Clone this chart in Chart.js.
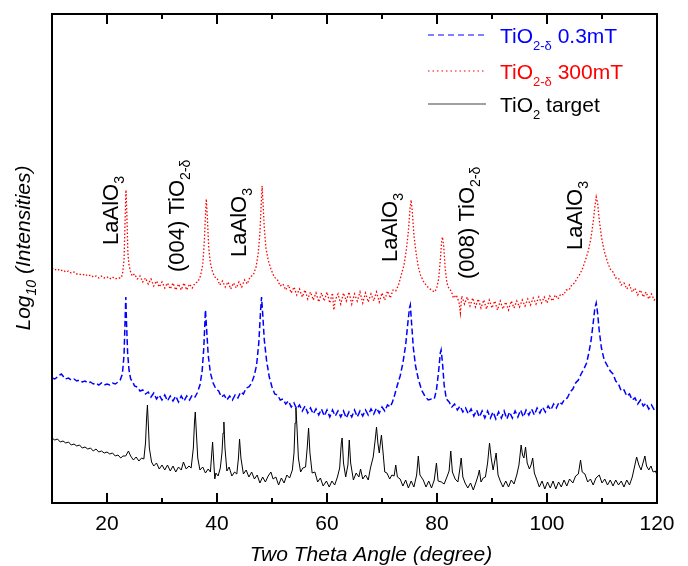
<!DOCTYPE html>
<html>
<head>
<meta charset="utf-8">
<title>XRD TiO2</title>
<script src="https://cdn.jsdelivr.net/npm/chart.js@4.4.0/dist/chart.umd.min.js"></script>
<style>
html,body{margin:0;padding:0;background:#fff;}
#wrap{width:688px;height:566px;}
</style>
</head>
<body>
<div id="wrap"><canvas id="xrd" width="688" height="566"></canvas></div>
<script>
/* XRD patterns, log intensity in arbitrary units (traces offset) */

// x axis
const xMin = 10, xMax = 120;
const xMajorTicks = [20, 40, 60, 80, 100, 120];
const xMinorTicks = [30, 50, 70, 90, 110];
const yMin = 0, yMax = 489;

// TiO2-δ 0.3mT (blue, dashed)  [angle, value]
const film03 = [[10,125],[10.5,124],[11,126],[11.4,128],[11.7,129],[12,127],[12.4,124],[13,125],[13.5,123],[14,124],[14.5,122],[15,123],[15.5,121],[16,122],[16.5,120],[17,121],[17.5,119],[18,120],[18.5,118],[19,120],[19.5,118],[20,119],[20.5,118],[21,120],[21.5,119],[22,121],[22.4,123],[22.8,129],[23.1,148],[23.3,185],[23.42,206],[23.55,180],[23.75,150],[24,133],[24.3,124],[24.7,121],[25,117],[25.5,116],[26,112],[26.5,113],[27,109],[27.5,111],[28,106],[28.5,110],[29,104],[29.5,108],[30,103],[30.5,108],[31,102],[31.5,107],[32,102],[32.5,107],[33,101],[33.5,107],[34,102],[34.5,107],[35,103],[35.5,108],[36,106],[36.4,110],[36.9,118],[37.3,132],[37.6,155],[37.9,193],[38.1,175],[38.4,148],[38.8,130],[39.3,120],[39.8,114],[40.3,112],[40.8,106],[41.3,108],[41.8,103],[42.3,107],[42.8,103],[43.3,108],[43.8,105],[44.3,111],[44.8,109],[45.3,115],[45.8,116],[46.3,120],[46.8,128],[47.2,138],[47.6,160],[47.9,190],[48.1,206],[48.3,190],[48.6,163],[49,143],[49.5,126],[50,116],[50.5,109],[51,108],[51.5,103],[52,104],[52.5,99],[53,102],[53.5,96],[54,100],[54.5,94],[55,98],[55.5,92],[56,97],[56.5,90],[57,95],[57.5,89],[58,94],[58.5,88],[59,94],[59.5,87],[60,93],[60.5,86],[61,93],[61.5,87],[62,92],[62.5,86],[63,92],[63.5,85],[64,91],[64.5,86],[65,93],[65.5,86],[66,92],[66.5,87],[67,93],[67.5,88],[68,94],[68.5,89],[69,95],[69.5,90],[70,96],[70.5,92],[71,98],[71.5,96],[71.9,101],[72.3,108],[72.8,118],[73.3,127],[73.8,140],[74.3,158],[74.7,180],[75,195],[75.15,198],[75.35,182],[75.7,155],[76.1,137],[76.6,124],[77.2,113],[77.8,107],[78.4,103],[79,104],[79.5,104],[79.9,113],[80.3,132],[80.6,150],[80.75,153],[81,140],[81.3,118],[81.7,104],[82.2,101],[82.7,96],[83.2,99],[83.7,93],[84.2,97],[84.7,91],[85.2,95],[85.7,89],[86.2,94],[86.7,87],[87.2,93],[87.7,86],[88.2,92],[88.7,85],[89.2,92],[89.7,85],[90.2,91],[90.7,84],[91.2,91],[91.7,85],[92.2,92],[92.7,84],[93.2,91],[93.7,85],[94.2,92],[94.7,86],[95.2,93],[95.7,86],[96.2,93],[96.7,88],[97.2,94],[97.7,88],[98.2,95],[98.7,90],[99.2,96],[99.7,91],[100.2,97],[100.7,93],[101.2,99],[101.7,95],[102.2,101],[102.7,99],[103.2,104],[103.7,105],[104.2,111],[104.7,114],[105.2,120],[105.7,123],[106.2,129],[106.7,134],[107.2,140],[107.6,150],[108,162],[108.4,180],[108.7,195],[108.95,200],[109.2,190],[109.5,172],[109.9,155],[110.4,143],[111,137],[111.5,132],[112,129],[112.5,122],[113,119],[113.5,112],[114,113],[114.5,107],[115,109],[115.5,103],[116,105],[116.5,99],[117,103],[117.5,97],[118,100],[118.5,94],[119,98],[119.5,93],[120,96]];

// TiO2-δ 300mT (red, dotted)
const film300 = [[10,235],[10.5,233],[11,234],[11.5,232],[12,233],[12.5,231],[13,232],[13.5,230],[14,231],[14.5,229],[15,229],[15.5,228],[16,229],[16.5,227],[17,228],[17.5,226],[18,227],[18.5,225],[19,227],[19.5,225],[20,226],[20.5,224],[21,226],[21.5,224],[22,225],[22.5,225],[22.8,228],[23.1,243],[23.3,285],[23.45,313],[23.6,290],[23.8,250],[24,238],[24.3,231],[24.6,227],[25,229],[25.5,224],[26,227],[26.5,221],[27,225],[27.5,219],[28,224],[28.5,217],[29,222],[29.5,216],[30,221],[30.5,215],[31,220],[31.5,214],[32,220],[32.5,213],[33,219],[33.5,213],[34,220],[34.5,213],[35,219],[35.5,215],[36,220],[36.5,221],[37,227],[37.4,238],[37.7,262],[37.9,288],[38.05,304],[38.25,285],[38.5,255],[38.8,240],[39.2,231],[39.6,226],[40,225],[40.5,218],[41,222],[41.5,216],[42,221],[42.5,214],[43,220],[43.5,215],[44,221],[44.5,216],[45,223],[45.5,219],[46,226],[46.6,228],[47.1,236],[47.5,250],[47.8,270],[48.05,300],[48.2,317],[48.35,302],[48.6,275],[48.9,255],[49.3,243],[49.8,234],[50.4,226],[51,223],[51.5,217],[52,219],[52.5,213],[53,218],[53.5,210],[54,216],[54.5,208],[55,214],[55.5,206],[56,213],[56.5,204],[57,211],[57.5,203],[58,210],[58.5,201],[59,210],[59.5,202],[60,211],[60.5,200],[61,210],[61.25,193],[61.5,203],[62,209],[62.5,199],[63,210],[63.5,202],[64,211],[64.5,199],[65,209],[65.5,202],[66,211],[66.5,200],[67,210],[67.5,201],[68,209],[68.5,202],[69,211],[69.5,201],[70,210],[70.5,203],[71,212],[71.5,205],[72,213],[72.5,212],[73,218],[73.5,228],[74,238],[74.4,252],[74.8,272],[75.1,295],[75.3,303],[75.5,292],[75.8,268],[76.2,250],[76.6,236],[77,228],[77.5,222],[78,218],[78.5,215],[79,213],[79.5,211],[79.9,214],[80.3,224],[80.6,243],[80.85,262],[81,266],[81.2,258],[81.5,234],[81.8,220],[82.2,214],[82.6,212],[83,205],[83.5,208],[84,201],[84.25,190],[84.5,207],[85,199],[85.5,206],[86,197],[86.5,205],[87,196],[87.5,204],[88,195],[88.5,203],[89,194],[89.5,203],[90,195],[90.5,202],[91,193],[91.5,202],[92,194],[92.5,201],[93,193],[93.5,202],[94,195],[94.5,202],[95,196],[95.5,203],[96,197],[96.5,204],[97,198],[97.5,205],[98,199],[98.5,206],[99,200],[99.5,206],[100,200],[100.5,207],[101,202],[101.5,208],[102,204],[102.5,209],[103,208],[103.5,213],[104,213],[104.5,218],[105,220],[105.5,225],[106,229],[106.5,235],[107,243],[107.5,252],[108,265],[108.4,281],[108.7,296],[108.95,306],[109.2,300],[109.5,283],[109.9,266],[110.4,252],[111,241],[111.5,234],[112,231],[112.5,225],[113,225],[113.5,218],[114,220],[114.5,214],[115,218],[115.5,211],[116,215],[116.5,208],[117,213],[117.5,206],[118,211],[118.5,204],[119,209],[119.5,203],[120,206]];

// TiO2 target (black, solid)
const target = [[10,65],[10.5,63],[11,64],[11.5,61],[12,62],[12.5,60],[13,61],[13.5,58],[14,59],[14.5,57],[15,58],[15.5,55],[16,56],[16.5,54],[17,55],[17.5,52],[18,54],[18.5,51],[19,52],[19.5,50],[20,51],[20.5,49],[21,50],[21.5,47],[22,48],[22.5,45],[22.9,47],[23.4,47],[23.9,52],[24.3,47],[24.8,43],[25.3,46],[25.8,42],[26.3,45],[26.7,44],[27,60],[27.2,85],[27.35,98],[27.5,80],[27.7,55],[28.1,41],[28.5,37],[29,40],[29.5,34],[30,38],[30.5,33],[31,38],[31.5,32],[32,37],[32.5,31],[33,36],[33.5,33],[33.9,41],[34.4,34],[34.9,37],[35.3,35],[35.7,55],[35.9,80],[36.05,91],[36.25,70],[36.5,45],[36.9,33],[37.4,36],[37.9,30],[38.4,34],[38.8,31],[39.05,50],[39.2,61],[39.4,42],[39.6,24],[39.8,30],[40.2,27],[40.6,35],[40.9,50],[41.1,70],[41.25,81],[41.45,55],[41.8,32],[42.2,36],[42.7,27],[43.2,31],[43.6,29],[43.9,45],[44.1,64],[44.35,45],[44.8,29],[45.3,33],[45.8,26],[46.3,31],[46.8,24],[47.3,28],[47.8,20],[48.3,26],[48.8,21],[49.3,27],[49.8,31],[50.2,24],[50.7,26],[51.2,18],[51.7,25],[52.2,20],[52.7,28],[53.2,25],[53.7,33],[54,50],[54.2,80],[54.35,95],[54.55,75],[54.8,45],[55.2,31],[55.6,35],[56.1,36],[56.4,55],[56.65,75],[56.9,50],[57.3,30],[57.8,31],[58.3,21],[58.8,25],[59.3,17],[59.9,22],[60.4,16],[60.9,22],[61.4,18],[61.9,26],[62.3,35],[62.6,60],[62.75,65],[63,40],[63.4,26],[63.8,38],[64.05,63],[64.3,40],[64.8,23],[65.3,30],[65.8,26],[66.1,34],[66.5,24],[67,28],[67.5,23],[67.9,35],[68.4,46],[68.8,65],[69,76],[69.25,60],[69.5,50],[69.75,62],[69.9,68],[70.2,50],[70.5,31],[70.9,30],[71.4,24],[71.8,28],[72.2,27],[72.5,38],[72.8,26],[73.3,24],[73.8,17],[74.3,23],[74.8,15],[75.3,22],[75.8,16],[76.3,28],[76.6,47],[76.9,28],[77.5,23],[78,16],[78.5,22],[79,15],[79.5,23],[79.9,40],[80.2,22],[80.8,21],[81.3,19],[81.8,26],[82.2,32],[82.5,52],[82.8,31],[83.3,24],[83.8,21],[84.1,32],[84.4,45],[84.7,26],[85.1,20],[85.6,15],[86.1,20],[86.6,13],[87.1,21],[87.5,28],[87.7,33],[88,21],[88.4,25],[88.8,26],[89.2,40],[89.55,60],[89.85,45],[90.2,33],[90.5,42],[90.75,50],[91.1,28],[91.5,22],[92,16],[92.5,22],[93,16],[93.5,23],[94,19],[94.5,28],[94.9,38],[95.3,58],[95.55,48],[95.8,45],[96.1,56],[96.4,40],[96.8,34],[97.1,38],[97.4,45],[97.7,30],[98.1,24],[98.6,16],[99.1,22],[99.6,14],[100.1,21],[100.6,15],[101.1,22],[101.6,14],[102.1,21],[102.6,16],[103.1,23],[103.6,17],[104.1,24],[104.7,20],[105.2,27],[105.7,29],[106.1,43],[106.4,31],[106.9,29],[107.4,21],[107.9,24],[108.4,18],[108.9,25],[109.5,28],[110,20],[110.5,24],[111,18],[111.5,23],[112,17],[112.5,23],[113,18],[113.5,22],[114,16],[114.5,23],[115,18],[115.5,26],[115.9,36],[116.3,46],[116.7,38],[117.1,33],[117.45,40],[117.8,47],[118.1,37],[118.5,33],[118.9,37],[119.3,31],[119.7,32],[120,28]];

// peak labels (rotated), position in data units
const peakMain  = ['LaAlO', '(004) TiO', 'LaAlO', 'LaAlO', '(008) TiO', 'LaAlO'];
const peakSub   = ['3', '2-δ', '3', '3', '2-δ', '3'];
const peakAngle = [20.5, 32.5, 43.8, 71.3, 85.3, 104.9];
const peakLevel = [258, 231, 246, 241, 224, 253];

// legend
const legendMain = ['TiO', 'TiO', 'TiO'];
const legendSub  = ['2-δ', '2-δ', '2'];
const legendTail = [' 0.3mT', ' 300mT', ' target'];

const FONT = '"Liberation Sans", Arial, Helvetica, sans-serif';
const BLUE = '#0000ff', RED = '#ff0000', BLACK = '#000000';

const toXY = arr => arr.map(p => ({ x: p[0], y: p[1] }));

/* ---------- rich text helpers (subscripts) ---------- */
function richWidth(ctx, parts, size, subSize, style){
  let w = 0;
  parts.forEach(([t, sub]) => { ctx.font = `${style} ${sub ? subSize : size}px ${FONT}`; w += ctx.measureText(t).width; });
  return w;
}
function richText(ctx, parts, x, y, size, subSize, style, drop){
  parts.forEach(([t, sub]) => {
    ctx.font = `${style} ${sub ? subSize : size}px ${FONT}`;
    ctx.fillText(t, x, sub ? y + drop : y);
    x += ctx.measureText(t).width;
  });
}

/* ---------- frame, ticks, titles, labels, legend ---------- */
const decor = {
  id: 'decor',
  afterDatasetsDraw(chart){
    const ctx = chart.ctx, a = chart.chartArea;
    const xs = chart.scales.x, ys = chart.scales.y;
    ctx.save();
    ctx.strokeStyle = '#000';
    ctx.fillStyle = '#000';
    ctx.lineWidth = 2;
    ctx.setLineDash([]);
    ctx.strokeRect(a.left, a.top, a.right - a.left, a.bottom - a.top);

    // inward ticks top & bottom
    const tick = (v, len) => {
      const px = Math.round(xs.getPixelForValue(v));
      ctx.beginPath();
      ctx.moveTo(px, a.bottom); ctx.lineTo(px, a.bottom - len);
      ctx.moveTo(px, a.top); ctx.lineTo(px, a.top + len);
      ctx.stroke();
    };
    xMajorTicks.forEach(v => tick(v, 10));
    xMinorTicks.forEach(v => tick(v, 5));

    // tick labels
    ctx.font = `21px ${FONT}`;
    ctx.textAlign = 'center';
    ctx.textBaseline = 'alphabetic';
    xMajorTicks.forEach(v => ctx.fillText(String(v), xs.getPixelForValue(v), 530));

    // x title
    ctx.font = `italic 21px ${FONT}`;
    ctx.fillText('Two Theta Angle (degree)', 371, 561);

    // y title, rotated
    ctx.textAlign = 'left';
    const yParts = [['Log', 0], ['10', 1], [' (Intensities)', 0]];
    const yw = richWidth(ctx, yParts, 21, 14, 'italic');
    ctx.save();
    ctx.translate(30, 248 + yw / 2);
    ctx.rotate(-Math.PI / 2);
    richText(ctx, yParts, 0, 0, 21, 14, 'italic', 6);
    ctx.restore();

    // peak labels
    peakMain.forEach((m, i) => {
      const px = xs.getPixelForValue(peakAngle[i]);
      const py = ys.getPixelForValue(peakLevel[i]);
      ctx.save();
      ctx.translate(px + 8, py);
      ctx.rotate(-Math.PI / 2);
      richText(ctx, [[m, 0], [peakSub[i], 1]], 0, 0, 22, 14, 'normal', 6);
      ctx.restore();
    });

    // legend
    const rows = [35, 71, 104];
    const cols = [BLUE, RED, '#444'];
    const dashes = [[6, 4], [1.5, 3], []];
    const txtCols = [BLUE, RED, BLACK];
    rows.forEach((ry, i) => {
      ctx.strokeStyle = cols[i];
      ctx.lineWidth = 1.2;
      ctx.setLineDash(dashes[i]);
      ctx.beginPath();
      ctx.moveTo(428, ry); ctx.lineTo(486, ry);
      ctx.stroke();
      ctx.setLineDash([]);
      ctx.fillStyle = txtCols[i];
      richText(ctx, [[legendMain[i], 0], [legendSub[i], 1], [legendTail[i], 0]], 500, ry + 8, 21, 13, 'normal', 7);
    });
    ctx.restore();
  }
};

new Chart(document.getElementById('xrd'), {
  type: 'line',
  data: {
    datasets: [
      { label: 'TiO2 target', data: toXY(target), borderColor: BLACK, borderWidth: 1 },
      { label: 'TiO2-δ 0.3mT', data: toXY(film03), borderColor: BLUE, borderWidth: 1.5, borderDash: [6, 3] },
      { label: 'TiO2-δ 300mT', data: toXY(film300), borderColor: RED, borderWidth: 1.3, borderDash: [1.5, 2] }
    ]
  },
  options: {
    responsive: false,
    animation: false,
    layout: { padding: { left: 52, right: 31, top: 14, bottom: 63 } },
    elements: { point: { radius: 0 }, line: { tension: 0, fill: false } },
    plugins: { legend: { display: false }, tooltip: { enabled: false } },
    scales: {
      x: { type: 'linear', min: xMin, max: xMax, display: false },
      y: { type: 'linear', min: yMin, max: yMax, display: false }
    }
  },
  plugins: [decor]
});
</script>
</body>
</html>
